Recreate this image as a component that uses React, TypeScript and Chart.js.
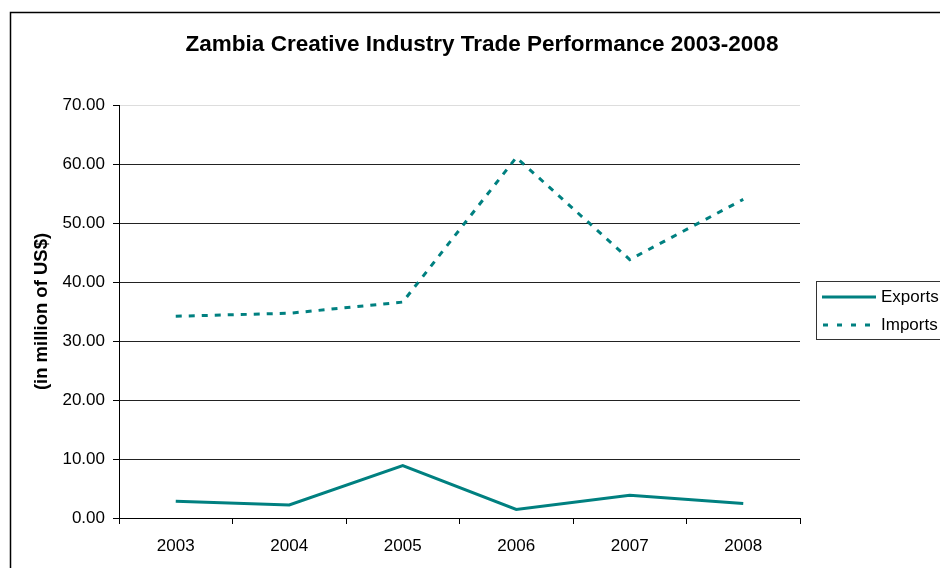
import React, { useEffect, useRef } from "react";
import { Chart, registerables } from "chart.js";

Chart.register(...registerables);

const years = ["2003", "2004", "2005", "2006", "2007", "2008"];
const exportsValues = [2.85, 2.2, 8.9, 1.45, 3.85, 2.45];
const importsValues = [34.2, 34.7, 36.6, 61.1, 43.8, 54.0];
const titleText = "Zambia Creative Industry Trade Performance 2003-2008";
const yAxisTitle = "(in million of US$)";
const seriesNames = ["Exports", "Imports"];

const FONT = "'Liberation Sans', Arial, sans-serif";
const TEAL = "#008080";

const decorPlugin = {
  id: "decor",
  beforeDraw(chart: any) {
    const ctx = chart.ctx;
    ctx.save();
    ctx.fillStyle = "#fff";
    ctx.fillRect(0, 0, chart.width, chart.height);
    ctx.strokeStyle = "#000";
    ctx.lineWidth = 1.5;
    ctx.strokeRect(10.5, 12.5, 1000, 700);
    ctx.restore();
  },
  afterDraw(chart: any) {
    const ctx = chart.ctx;
    ctx.save();
    // title
    ctx.fillStyle = "#000";
    ctx.font = `bold 22.5px ${FONT}`;
    ctx.textAlign = "center";
    ctx.textBaseline = "middle";
    ctx.fillText(titleText, 482, 45);
    // legend
    ctx.strokeStyle = "#333";
    ctx.lineWidth = 1;
    ctx.strokeRect(816.5, 281.5, 200, 58);
    ctx.font = `17px ${FONT}`;
    ctx.textAlign = "left";
    ctx.fillStyle = "#000";
    ctx.lineWidth = 3;
    ctx.strokeStyle = TEAL;
    ctx.beginPath();
    ctx.moveTo(822, 297);
    ctx.lineTo(876, 297);
    ctx.stroke();
    ctx.setLineDash([5, 9]);
    ctx.beginPath();
    ctx.moveTo(823, 325);
    ctx.lineTo(876, 325);
    ctx.stroke();
    ctx.setLineDash([]);
    ctx.fillText(seriesNames[0], 881, 297);
    ctx.fillText(seriesNames[1], 881, 325);
    ctx.restore();
  },
};

export default function App() {
  const ref = useRef<HTMLCanvasElement>(null);
  useEffect(() => {
    if (!ref.current) return;
    const chart = new Chart(ref.current, {
      type: "line",
      data: {
        labels: years,
        datasets: [
          {
            label: seriesNames[0],
            data: exportsValues,
            borderColor: TEAL,
            backgroundColor: TEAL,
            borderWidth: 3,
            pointRadius: 0,
            tension: 0,
          },
          {
            label: seriesNames[1],
            data: importsValues,
            borderColor: TEAL,
            backgroundColor: TEAL,
            borderWidth: 3,
            borderDash: [6, 7],
            pointRadius: 0,
            tension: 0,
          },
        ],
      },
      options: {
        animation: false,
        responsive: false,
        maintainAspectRatio: false,
        layout: { padding: { left: 0, right: 140, top: 105, bottom: 0 } },
        plugins: {
          legend: { display: false },
          title: { display: false },
          tooltip: { enabled: false },
        },
        scales: {
          x: {
            offset: true,
            grid: {
              offset: true,
              drawOnChartArea: false,
              drawTicks: true,
              tickLength: 6,
              color: "#000",
            },
            border: { color: "#000", width: 1 },
            ticks: {
              color: "#000",
              font: { family: FONT, size: 17 },
              padding: 12,
              maxRotation: 0,
            },
            afterFit(scale: any) {
              scale.height = 50;
            },
          },
          y: {
            min: 0,
            max: 70,
            ticks: {
              stepSize: 10,
              color: "#000",
              font: { family: FONT, size: 17 },
              padding: 8,
              callback: (v: any) => Number(v).toFixed(2),
            },
            grid: {
              color: (c: any) => (c.tick && c.tick.value === 70 ? "#ddd" : "#222"),
              tickColor: "#000",
              tickLength: 6,
              lineWidth: 1,
            },
            border: { color: "#000", width: 1 },
            title: {
              display: true,
              text: yAxisTitle,
              color: "#000",
              font: { family: FONT, size: 18.5, weight: "bold" },
              padding: { top: 31, bottom: 0 },
            },
            afterFit(scale: any) {
              scale.width = 119;
            },
          },
        },
      },
      plugins: [decorPlugin],
    });
    return () => chart.destroy();
  }, []);
  return (
    <div style={{ position: "fixed", left: 0, top: 0, width: 940, height: 568 }}>
      <canvas ref={ref} width={940} height={568} style={{ width: 940, height: 568 }} />
    </div>
  );
}
